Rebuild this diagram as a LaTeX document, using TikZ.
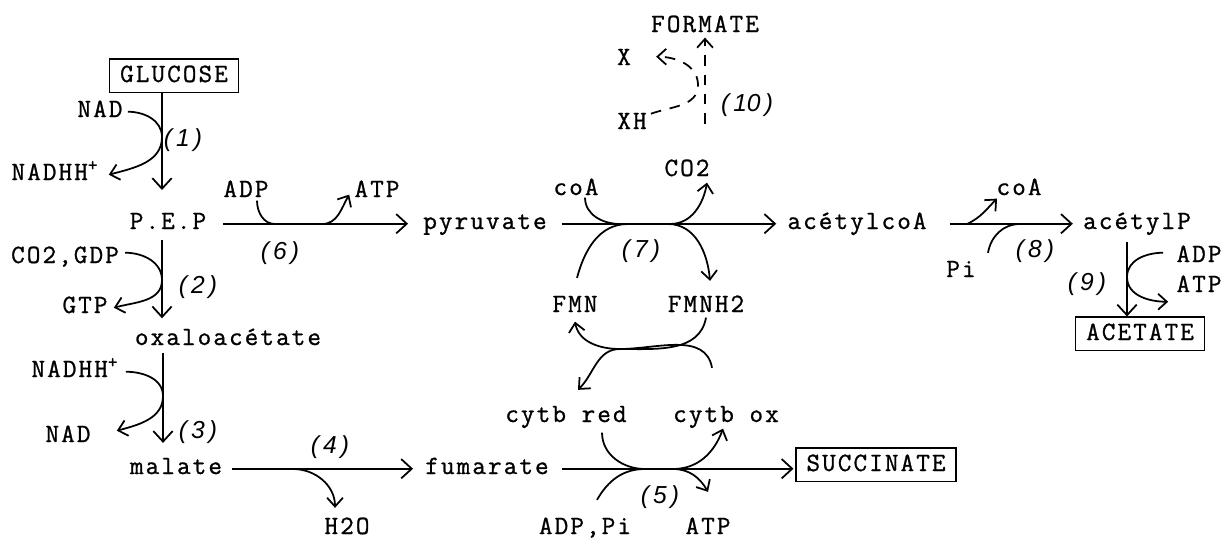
\documentclass[tikz,border=0pt]{standalone}
\usepackage{fontspec}
\newfontfamily\chemfont{Latin Modern Mono}[LetterSpace=8,FakeBold=1]
\newfontfamily\handfont{Liberation Sans}
\usetikzlibrary{arrows.meta,calc}
\tikzset{
  lbl/.style={font=\chemfont\fontsize{15}{17}\selectfont, inner sep=0pt, text height=9pt, text depth=3pt, anchor=base},
  endbox/.style={lbl, draw, line width=0.8pt, inner xsep=6pt, inner ysep=3pt, text height=10pt},
  num/.style={font=\handfont\itshape\fontsize{14}{16}\selectfont, inner sep=0pt},
  reac/.style={line width=1pt, -{Straight Barb[length=6pt,width=11pt]}},
  cof/.style={line width=1pt},
  cofarr/.style={cof, -{Straight Barb[length=5pt,width=9pt]}},
  dashline/.style={line width=1pt, dash pattern=on 6pt off 5pt}
}
\begin{document}
\begin{tikzpicture}[x=0.02cm,y=-0.02cm]
\useasboundingbox[fill=white] (0,0) rectangle (1226,541);
% main metabolites
\node[endbox] (glucose) at (174,82) {GLUCOSE};
\node[lbl] (pep) at (168,229) {P.E.P};
\node[lbl] (oxa) at (228,345) {oxaloacétate};
\node[lbl] (mal) at (176,474) {malate};
\node[lbl] (fum) at (487,474) {fumarate};
\node[endbox] (succ) at (876,471) {SUCCINATE};
\node[lbl] (pyr) at (485,229) {pyruvate};
\node[lbl] (acoa) at (857,229) {acétylcoA};
\node[lbl] (acp) at (1137,229) {acétylP};
\node[endbox] (acet) at (1140,340) {ACETATE};
\node[lbl] (form) at (705,32) {FORMATE};
% cofactors
\node[lbl] (nad1) at (100,117) {NAD};
\node[lbl] (nadh1) at (55,180) {NADHH\textsuperscript{+}};
\node[lbl] (co2gdp) at (65,263) {CO2,GDP};
\node[lbl] (gtp) at (85,313) {GTP};
\node[lbl] (nadh3) at (75,377) {NADHH\textsuperscript{+}};
\node[lbl] (nad3) at (68,442) {NAD};
\node[lbl] (h2o) at (347,534) {H2O};
\node[lbl] (adp6) at (246,197) {ADP};
\node[lbl] (atp6) at (377,197) {ATP};
\node[lbl] (coa7) at (576,195) {coA};
\node[lbl] (co2) at (687,176) {CO2};
\node[lbl] (fmn) at (575,312) {FMN};
\node[lbl] (fmnh) at (706,312) {FMNH2};
\node[lbl] (cytred) at (566,422) {cytb red};
\node[lbl] (cytox) at (726,422) {cytb ox};
\node[lbl] (adppi) at (585,534) {ADP,Pi};
\node[lbl] (atp5) at (708,534) {ATP};
\node[lbl] (coa8) at (1019,195) {coA};
\node[lbl] (pi8) at (961,277) {Pi};
\node[lbl] (adp9) at (1199,262) {ADP};
\node[lbl] (atp9) at (1199,292) {ATP};
\node[lbl] (xa) at (624,65) {X};
\node[lbl] (xh) at (632,129) {XH};
% reaction numbers
\node[num] (n1) at (183,140) {(\,1\,)};
\node[num] (n2) at (198,287) {(\,2\,)};
\node[num] (n3) at (198,432) {(\,3\,)};
\node[num] (n4) at (330,447) {(\,4\,)};
\node[num] (n5) at (660,497) {(\,5\,)};
\node[num] (n6) at (280,253) {(\,6\,)};
\node[num] (n7) at (641,251) {(\,7\,)};
\node[num] (n8) at (1035,251) {(\,8\,)};
\node[num] (n9) at (1087,284) {(\,9\,)};
\node[num] (n10) at (747,105) {(\,10\,)};
% touching points
\coordinate (c1) at (162,137);
\coordinate (c2) at (162,280);
\coordinate (c3) at (163,396);
\coordinate (c4) at (293,469);
\coordinate (c6a) at (275,224);
\coordinate (c6b) at (322,224);
\coordinate (c7a) at (620,224);
\coordinate (c7b) at (670,224);
\coordinate (c7c) at (628,224);
\coordinate (c7d) at (668,224);
\coordinate (cx) at (620,349);
\coordinate (c5a) at (645,469);
\coordinate (c5b) at (673,469);
\coordinate (c8a) at (967,224);
\coordinate (c8b) at (1020,224);
\coordinate (c9) at (1127,277);
\coordinate (c10) at (698,85);
% main reactions
\draw[reac,shorten >=13pt] (glucose.south -| c1) -- (pep.north -| c1);
\draw[reac,shorten <=3pt,shorten >=6pt] (pep.south -| c2) -- (oxa.north -| c2);
\draw[reac,shorten <=1.5pt,shorten >=8.5pt] (oxa.south -| c3) -- (mal.north -| c3);
\draw[reac,shorten <=5.7pt,shorten >=6.8pt] (mal.east) -- (fum.west);
\draw[reac,shorten <=9.6pt,shorten >=8.5pt] (pep.east) -- (pyr.west);
\draw[reac,shorten <=8.5pt,shorten >=6.2pt] (pyr.east) -- (acoa.west);
\draw[reac,shorten <=13pt,shorten >=5.7pt] (acoa.east) -- (acp.west);
\draw[reac,shorten <=4.4pt] (acp.south -| c9) -- (acet.north -| c9);
\draw[reac,shorten <=7.4pt,shorten >=1pt] (fum.east) -- (succ.west |- fum.east);
\draw[dashline,-{Straight Barb[length=5pt,width=9pt]}] (xh.east -| form.south) -- (form.south);
% cofactors
\draw[cofarr] ($(nad1.east)+(5,0)$) to[out=0,in=90] (c1) to[out=-90,in=15] ($(nadh1.east)+(10,0)$);
\draw[cofarr] ($(co2gdp.east)+(6,-5)$) to[out=0,in=90] (c2) to[out=-90,in=15] ($(gtp.east)+(6,0)$);
\draw[cofarr] ($(nadh3.east)+(7,0)$) to[out=0,in=90] (c3) to[out=-90,in=15] ($(nad3.east)+(26,-6)$);
\draw[cofarr] (c4) to[out=0,in=90] ($(h2o.north)+(-12,-10)$);
\draw[cof] ($(adp6.south)+(11,-2)$) to[out=-90,in=180] (c6a);
\draw[cofarr] (c6b) to[out=0,in=-120] ($(atp6.south west)+(-5,-8)$);
\draw[cof] ($(coa7.south)+(9,-3)$) to[out=-90,in=180] (c7a);
\draw[cofarr] (c7b) to[out=0,in=-100] ($(co2.south)+(20,1)$);
\draw[cof] ($(fmn.north)+(2,-18)$) to[out=75,in=180] (c7c);
\draw[cofarr] (c7d) to[out=0,in=95] ($(fmnh.north)+(4,-15)$);
\draw[cofarr] (fmnh.south) to[out=-100,in=0] (cx) to[out=180,in=-80] ($(fmn.south)+(0,4)$);
\draw[cofarr] ($(cytox.north)+(-14,-38)$) to[out=100,in=0] (cx) to[out=180,in=45] ($(cytred.north)+(12,-16)$);
\draw[cof] ($(cytred.south)+(36,5)$) to[out=-90,in=180] (c5a);
\draw[cofarr] (c5b) to[out=0,in=-110] ($(cytox.south)+(-3,1)$);
\draw[cof] ($(adppi.north)+(12,-18)$) to[out=60,in=180] (c5a);
\draw[cofarr] (c5b) to[out=0,in=120] ($(atp5.north)+(0,-26)$);
\draw[cofarr] (c8a) to[out=25,in=-135] ($(coa8.south)+(-22,-2)$);
\draw[cof] ($(pi8.north east)+(12,-8)$) to[out=80,in=180] (c8b);
\draw[cofarr] ($(adp9.west)+(-13,-4)$) to[out=180,in=90] (c9) to[out=-90,in=180] ($(atp9.west)+(-8,15)$);
\draw[dashline,-{Straight Barb[length=5pt,width=9pt]}] ($(xh.east)+(4,-10)$) to[out=20,in=-90] (c10) to[out=90,in=0] ($(xa.east)+(25,-3)$);
\end{tikzpicture}
\end{document}
